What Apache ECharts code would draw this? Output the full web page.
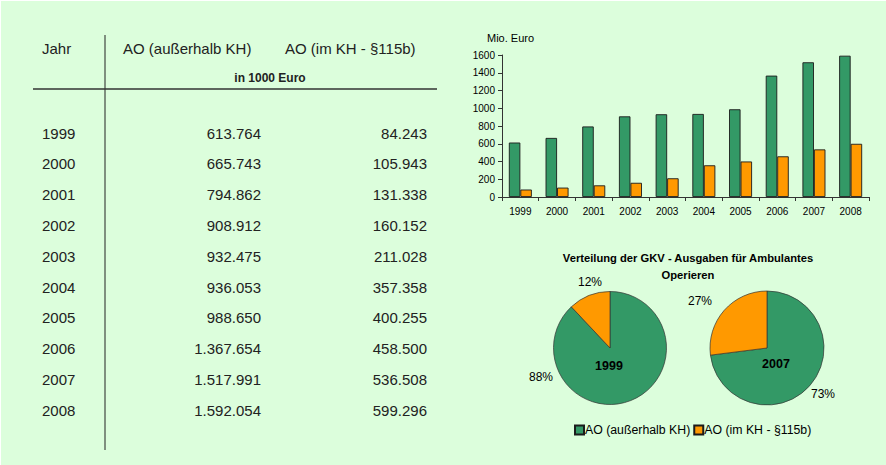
<!DOCTYPE html>
<html>
<head>
<meta charset="utf-8">
<script src="https://cdn.jsdelivr.net/npm/echarts@6/dist/echarts.min.js"></script>
<style>
html,body{margin:0;padding:0;background:#fff;}
#c{position:absolute;left:1px;top:1px;width:885px;height:464px;}
</style>
</head>
<body>
<div id="c"></div>
<script>
// ---- data ----
var years = ['1999','2000','2001','2002','2003','2004','2005','2006','2007','2008'];
var aoOutside = [613764, 665743, 794862, 908912, 932475, 936053, 988650, 1367654, 1517991, 1592054]; // in 1000 Euro
var aoHospital = [84243, 105943, 131338, 160152, 211028, 357358, 400255, 458500, 536508, 599296]; // in 1000 Euro
var tableHeaders = ['Jahr', 'AO (außerhalb KH)', 'AO (im KH - §115b)'];
var tableUnit = 'in 1000 Euro';
var seriesNames = ['AO (außerhalb KH)', 'AO (im KH - §115b)'];
var yTicks = [0, 200, 400, 600, 800, 1000, 1200, 1400, 1600];
var yUnit = 'Mio. Euro';
var pieTitle = 'Verteilung der GKV - Ausgaben für Ambulantes\nOperieren';
var pieYears = ['1999', '2007'];
var pie1999 = [88, 12];
var pie2007 = [73, 27];

var GREEN = '#339966', ORANGE = '#ff9900';

function fmt(n){ return String(n).replace(/\B(?=(\d{3})+(?!\d))/g, '.'); }

var chart = echarts.init(document.getElementById('c'), null, {renderer:'svg'});

var FONT = 'Liberation Sans, Arial, sans-serif';
var graphics = [];
// table lines
graphics.push({type:'line', shape:{x1:104, y1:34, x2:104, y2:449}, style:{stroke:'#222', lineWidth:1}});
graphics.push({type:'line', shape:{x1:32, y1:88, x2:436, y2:88}, style:{stroke:'#333', lineWidth:1.3}});
// headers
var hx = [41, 122, 284];
tableHeaders.forEach(function(h, i){
  graphics.push({type:'text', x:hx[i], y:47, style:{text:h, font:'15px '+FONT, fill:'#222', verticalAlign:'middle', textAlign:'left'}});
});
graphics.push({type:'text', x:269, y:77, style:{text:tableUnit, font:'bold 12px '+FONT, fill:'#222', verticalAlign:'middle', textAlign:'center'}});
years.forEach(function(y, i){
  var yy = 132 + i*30.8;
  graphics.push({type:'text', x:41, y:yy, style:{text:y, font:'15px '+FONT, fill:'#222', verticalAlign:'middle', textAlign:'left'}});
  graphics.push({type:'text', x:260, y:yy, style:{text:fmt(aoOutside[i]), font:'15px '+FONT, fill:'#222', verticalAlign:'middle', textAlign:'right'}});
  graphics.push({type:'text', x:426, y:yy, style:{text:fmt(aoHospital[i]), font:'15px '+FONT, fill:'#222', verticalAlign:'middle', textAlign:'right'}});
});
// y unit
graphics.push({type:'text', x:486, y:37, style:{text:yUnit, font:'11px '+FONT, fill:'#000', verticalAlign:'middle', textAlign:'left'}});
// pie center labels
var pieCenters = [[608, 365], [775, 363]];
pieYears.forEach(function(t, i){
  graphics.push({type:'text', x:pieCenters[i][0], y:pieCenters[i][1], z:100, style:{text:t, font:'bold 12.5px '+FONT, fill:'#000', verticalAlign:'middle', textAlign:'center'}});
});

var barBorder = {borderColor:'#1b1b1b', borderWidth:0.9};
var pieLabelPos = [[[540, 376], [589, 281]], [[822, 393], [699, 300]]];

function pieLayout(s){
  return function(p){ var q = pieLabelPos[s][p.dataIndex]; return {x: q[0], y: q[1], align: 'center', verticalAlign: 'middle'}; };
}

var option = {
  backgroundColor: '#dcfedc',
  animation: false,
  textStyle: {fontFamily: FONT},
  title: {
    text: pieTitle, left: 687, top: 248, textAlign: 'center', padding: 0,
    textStyle: {fontSize: 11.2, fontWeight: 'bold', color: '#000', lineHeight: 17, fontFamily: FONT}
  },
  legend: {
    data: seriesNames, left: 573, top: 423, padding: 0, itemWidth: 9, itemHeight: 9, itemGap: 3,
    icon: 'rect', textStyle: {fontSize: 12.3, color: '#000', padding:[0,0,0,-4], fontFamily: FONT}
  },
  grid: {left: 501, right: 17, top: 54, bottom: 268, containLabel: false},
  xAxis: {
    type: 'category', data: years,
    axisLine: {lineStyle: {color: '#333', width: 1}},
    axisTick: {show: true, length: 4, lineStyle: {color: '#333'}},
    axisLabel: {fontSize: 10, color: '#000', margin: 9, interval: 0}
  },
  yAxis: {
    type: 'value', min: yTicks[0], max: yTicks[yTicks.length-1], interval: 200,
    axisLine: {show: true, lineStyle: {color: '#333', width: 1}},
    axisTick: {show: true, length: 4, lineStyle: {color: '#333'}},
    splitLine: {show: false},
    axisLabel: {fontSize: 10, color: '#000', margin: 7, formatter: function(v){ return String(v); }}
  },
  series: [
    {name: seriesNames[0], type: 'bar', barWidth: 11.5, barGap: '0%',
      itemStyle: Object.assign({color: GREEN}, barBorder),
      data: aoOutside.map(function(v){ return v/1000; })},
    {name: seriesNames[1], type: 'bar', barWidth: 11.5, barGap: '0%',
      itemStyle: Object.assign({color: ORANGE}, barBorder),
      data: aoHospital.map(function(v){ return v/1000; })},
    {name: pieYears[0], type: 'pie', center: [609, 347], radius: 56.5, startAngle: 90, clockwise: true,
      itemStyle: {borderColor: '#333', borderWidth: 0.7},
      label: {show: true, position: 'outside', formatter: '{c}%', fontSize: 12, color: '#000'},
      labelLine: {show: false, length: 6, length2: 0},
      labelLayout: pieLayout(0),
      emphasis: {disabled: true},
      data: [{name: seriesNames[0], value: pie1999[0], itemStyle:{color: GREEN}},
             {name: seriesNames[1], value: pie1999[1], itemStyle:{color: ORANGE}}]},
    {name: pieYears[1], type: 'pie', center: [766, 347], radius: 57, startAngle: 90, clockwise: true,
      itemStyle: {borderColor: '#333', borderWidth: 0.7},
      label: {show: true, position: 'outside', formatter: '{c}%', fontSize: 12, color: '#000'},
      labelLine: {show: false, length: 6, length2: 0},
      labelLayout: pieLayout(1),
      emphasis: {disabled: true},
      data: [{name: seriesNames[0], value: pie2007[0], itemStyle:{color: GREEN}},
             {name: seriesNames[1], value: pie2007[1], itemStyle:{color: ORANGE}}]}
  ],
  graphic: graphics
};
chart.setOption(option);
</script>
</body>
</html>
